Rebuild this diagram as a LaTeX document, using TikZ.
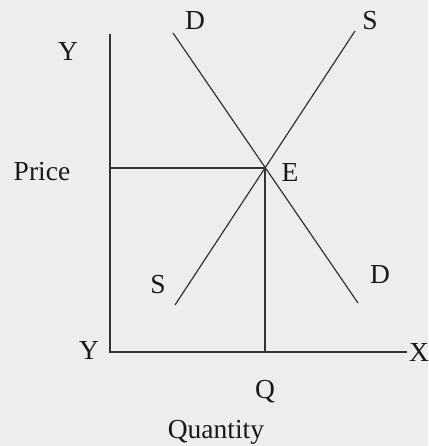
\documentclass[tikz,border=0pt]{standalone}
\usepackage{fontspec}
\setmainfont{Liberation Serif}
\usetikzlibrary{positioning, calc}

\begin{document}
\begin{tikzpicture}[x=1pt, y=-1pt,
    curve/.style={draw=black!80, line width=1.2pt},
    lbl/.style={font=\fontsize{27.5}{30}\selectfont, text=black!90, inner sep=0pt}]

    % Page and background
    \useasboundingbox (0,0) rectangle (428,446);
    \fill[black!7] (0,0) rectangle (428,446);

    % Axes
    \coordinate (ytop) at (110,34);
    \coordinate (origin) at (110,352);
    \coordinate (xend) at (407,352);
    \draw[curve] (ytop) -- (origin) -- (xend);

    % Demand and supply
    \coordinate (dtop) at (173,33);
    \coordinate (dbot) at (358,303);
    \coordinate (stop) at (355,31);
    \coordinate (sbot) at (175,305);
    \draw[curve] (dtop) -- (dbot);
    \draw[curve] (stop) -- (sbot);

    % Equilibrium point
    \coordinate (E) at (265,168);
    \coordinate (pE) at (110,168);
    \coordinate (qE) at (265,352);
    \draw[curve] (pE) -- (E) -- (qE);

    % Labels
    \node[lbl] (ylabtop) at (68,51) {Y};
    \node[lbl] (ylabbot) at (89,350) {Y};
    \node[lbl] (xlab) at (419,352) {X};
    \node[lbl] (price) at (42,172) {Price};
    \node[lbl] (dlabtop) at (195,21) {D};
    \node[lbl] (slabtop) at (370,21) {S};
    \node[lbl] (elab) at (290,172) {E};
    \node[lbl] (slabbot) at (158,285) {S};
    \node[lbl] (dlabbot) at (380,275) {D};
    \node[lbl] (qlab) at (265,392) {Q};
    \node[lbl] (quantity) at (216,432) {Quantity};

\end{tikzpicture}
\end{document}
